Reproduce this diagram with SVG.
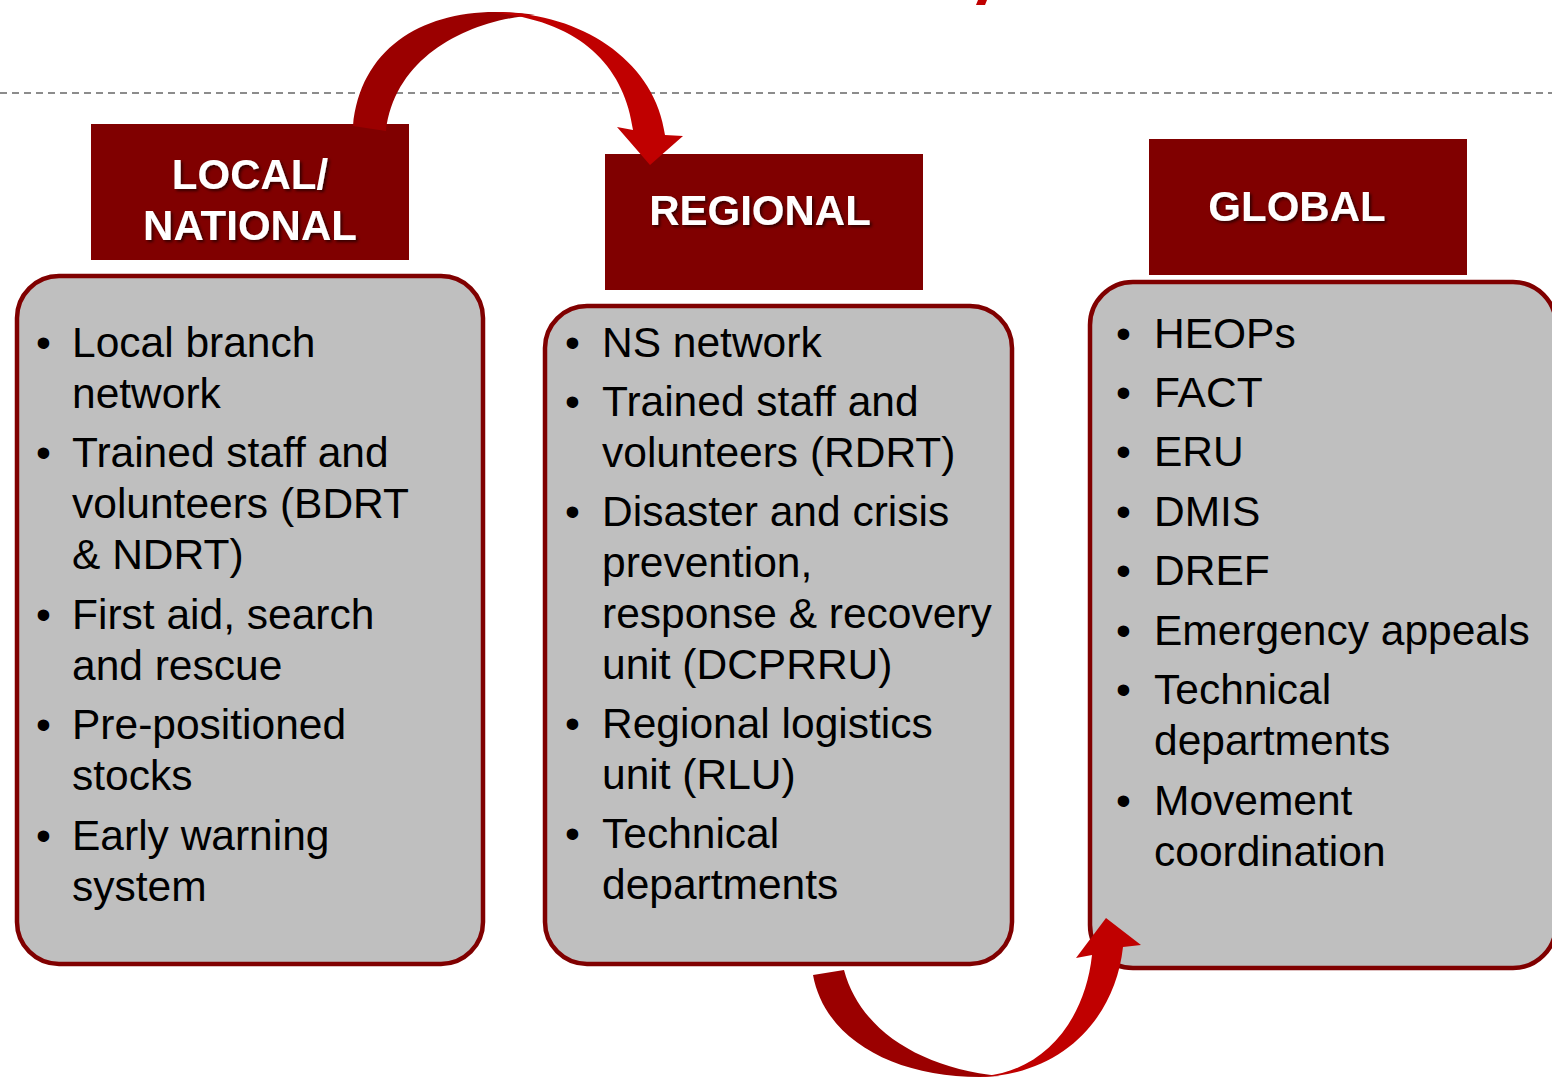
<svg xmlns="http://www.w3.org/2000/svg" width="1552" height="1078" viewBox="0 0 1552 1078">
<defs>
<filter id="shadow" x="-10%" y="-20%" width="120%" height="150%">
<feDropShadow dx="2" dy="2" stdDeviation="1.5" flood-color="#000" flood-opacity="0.6"/>
</filter>
<style>
.hdr{fill:#800000}
.hdrtxt{font-family:"Liberation Sans",Arial,sans-serif;font-weight:bold;font-size:42px;fill:#fff;text-anchor:middle}
.box{fill:#bfbfbf;stroke:#800000;stroke-width:4.5}
.t{font-family:"Liberation Sans",Arial,sans-serif;font-size:42.5px;fill:#000}
.dark{fill:#9b0000}
.bright{fill:#c00000}
</style>
</defs>
<rect width="1552" height="1078" fill="#fff"/>
<polygon points="978,0 987,0 985,5 976,5" fill="#c00000"/>
<line x1="0" y1="93" x2="1552" y2="93" stroke="#8c8c8c" stroke-width="2" stroke-dasharray="7,5"/>

<g id="local">
<rect class="hdr" x="91" y="124" width="318" height="136"/>
<text class="hdrtxt" filter="url(#shadow)"><tspan x="250" y="189">LOCAL/</tspan><tspan x="250" y="240">NATIONAL</tspan></text>
<rect class="box" x="17" y="276" width="466" height="688" rx="42"/>
<g class="t">
<text x="36" y="357">•</text><text x="72" y="357">Local branch</text><text x="72" y="408">network</text>
<text x="36" y="467">•</text><text x="72" y="467">Trained staff and</text><text x="72" y="518">volunteers (BDRT</text><text x="72" y="569">&amp; NDRT)</text>
<text x="36" y="629">•</text><text x="72" y="629">First aid, search</text><text x="72" y="680">and rescue</text>
<text x="36" y="739">•</text><text x="72" y="739">Pre-positioned</text><text x="72" y="790">stocks</text>
<text x="36" y="850">•</text><text x="72" y="850">Early warning</text><text x="72" y="901">system</text>
</g>
</g>

<g id="regional">
<rect class="hdr" x="605" y="154" width="318" height="136"/>
<text class="hdrtxt" x="760" y="225" filter="url(#shadow)">REGIONAL</text>
<rect class="box" x="545" y="306" width="467" height="658" rx="42"/>
<g class="t">
<text x="565" y="357">•</text><text x="602" y="357">NS network</text>
<text x="565" y="416">•</text><text x="602" y="416">Trained staff and</text><text x="602" y="467">volunteers (RDRT)</text>
<text x="565" y="526">•</text><text x="602" y="526">Disaster and crisis</text><text x="602" y="577">prevention,</text><text x="602" y="628">response &amp; recovery</text><text x="602" y="679">unit (DCPRRU)</text>
<text x="565" y="738">•</text><text x="602" y="738">Regional logistics</text><text x="602" y="789">unit (RLU)</text>
<text x="565" y="848">•</text><text x="602" y="848">Technical</text><text x="602" y="899">departments</text>
</g>
</g>

<g id="global">
<rect class="hdr" x="1149" y="139" width="318" height="136"/>
<text class="hdrtxt" x="1297" y="221" filter="url(#shadow)">GLOBAL</text>
<rect class="box" x="1090" y="282" width="466" height="686" rx="43"/>
<g class="t">
<text x="1116" y="348">•</text><text x="1154" y="348">HEOPs</text>
<text x="1116" y="407">•</text><text x="1154" y="407">FACT</text>
<text x="1116" y="466">•</text><text x="1154" y="466">ERU</text>
<text x="1116" y="526">•</text><text x="1154" y="526">DMIS</text>
<text x="1116" y="585">•</text><text x="1154" y="585">DREF</text>
<text x="1116" y="645">•</text><text x="1154" y="645">Emergency appeals</text>
<text x="1116" y="704">•</text><text x="1154" y="704">Technical</text><text x="1154" y="755">departments</text>
<text x="1116" y="815">•</text><text x="1154" y="815">Movement</text><text x="1154" y="866">coordination</text>
</g>
</g>

<g id="connectors">
<path class="dark" d="M353,126 C360,50 420,12 495,12 C510,12 522,13 535,15 C470,20 395,55 386,131 Z"/>
<path class="bright" d="M495,12 C580,12 655,60 665,135 L683,136 L650,165 L617,127 L633,130 C625,70 585,25 505,14 Z"/>
<path class="dark" d="M813,975 C825,1040 895,1077 980,1077 L1000,1076 C920,1068 860,1030 844,970 Z"/>
<path class="bright" d="M975,1077 C1060,1077 1115,1020 1123,947 L1141,945 L1106,918 L1076,958 L1092,955 C1085,1020 1045,1070 985,1076 Z"/>
</g>
</svg>
